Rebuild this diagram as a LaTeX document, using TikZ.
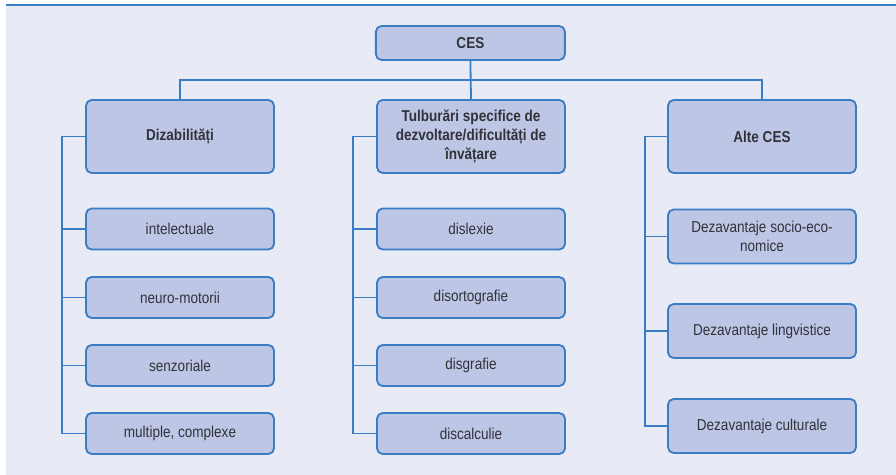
\documentclass[tikz,border=0pt]{standalone}
\usepackage{fontspec}
\setmainfont{Liberation Sans}[FakeStretch=0.86]
\usetikzlibrary{positioning, calc}
\definecolor{page_lavender}{RGB}{232, 234, 246}
\definecolor{box_lavender}{RGB}{189, 198, 229}
\definecolor{line_blue}{RGB}{58, 125, 196}
\definecolor{text_grey}{RGB}{50, 50, 58}

\begin{document}
\begin{tikzpicture}[
    root/.style={
        rectangle,
        draw=line_blue,
        fill=box_lavender,
        line width=1.3pt,
        minimum width=4.725cm,
        minimum height=0.85cm,
        text=text_grey,
        align=center,
        rounded corners=4pt,
        font=\fontsize{11.2}{13.8}\selectfont\bfseries
    },
    group/.style={
        root,
        minimum width=4.7cm,
        minimum height=1.825cm
    },
    item/.style={
        root,
        minimum width=4.7cm,
        minimum height=#1,
        font=\fontsize{11.2}{13.5}\selectfont
    },
    item/.default=1.025cm,
    link/.style={
        draw=line_blue,
        line width=1.3pt
    }
]

% Page background and top rule
\useasboundingbox (0,0) rectangle (22.4,11.875);
\fill[page_lavender] (0.15,0) rectangle (22.4,11.75);
\draw[link] (0.15,11.75) -- (22.4,11.75);

% CES box at top
\node[root] (ces) at (11.76,10.8) {CES};

% Three groups
\node[group] (diz) at (4.5,8.4625) {Dizabilități};
\node[group] (tulb) at (11.775,8.4625) {Tulburări specifice de\\dezvoltare/dificultăți de\\învățare};
\node[group] (alte) at (19.05,8.4625) {Alte CES};

% Dizabilitati items
\node[item] (intel) at (4.5,6.15) {intelectuale};
\node[item] (neuro) at (4.5,4.4375) {neuro-motorii};
\node[item] (senz) at (4.5,2.7375) {senzoriale};
\node[item] (mult) at (4.5,1.0375) {multiple, complexe};

% Tulburari items
\node[item] (dislex) at (11.775,6.15) {dislexie};
\node[item] (disort) at (11.775,4.4375) {disortografie};
\node[item] (disgraf) at (11.775,2.7375) {disgrafie};
\node[item] (discalc) at (11.775,1.0375) {discalculie};

% Alte CES items
\node[item=1.35cm] (socio) at (19.05,5.9625) {Dezavantaje socio-eco-\\nomice};
\node[item=1.35cm] (lingv) at (19.05,3.6) {Dezavantaje lingvistice};
\node[item=1.35cm] (cult) at (19.05,1.225) {Dezavantaje culturale};

% Bus under CES
\coordinate (bus) at ($(ces.south)!0.5!(tulb.north)$);
\draw[link] (ces.south) -- (tulb.north);
\draw[link] (diz.north) |- (bus) -| (alte.north);

% Spines on the left of each column
\coordinate (dizspine) at ($(diz.west)+(-0.575,0)$);
\coordinate (tulbspine) at ($(tulb.west)+(-0.575,0)$);
\coordinate (altespine) at ($(alte.west)+(-0.55,0)$);

\draw[link] (diz.west) -- (dizspine) |- (mult.west);
\foreach \n in {intel,neuro,senz}
    \draw[link] (dizspine |- \n.west) -- (\n.west);

\draw[link] (tulb.west) -- (tulbspine) |- (discalc.west);
\foreach \n in {dislex,disort,disgraf}
    \draw[link] (tulbspine |- \n.west) -- (\n.west);

\draw[link] (alte.west) -- (altespine) |- (cult.west);
\foreach \n in {socio,lingv}
    \draw[link] (altespine |- \n.west) -- (\n.west);

\end{tikzpicture}
\end{document}
